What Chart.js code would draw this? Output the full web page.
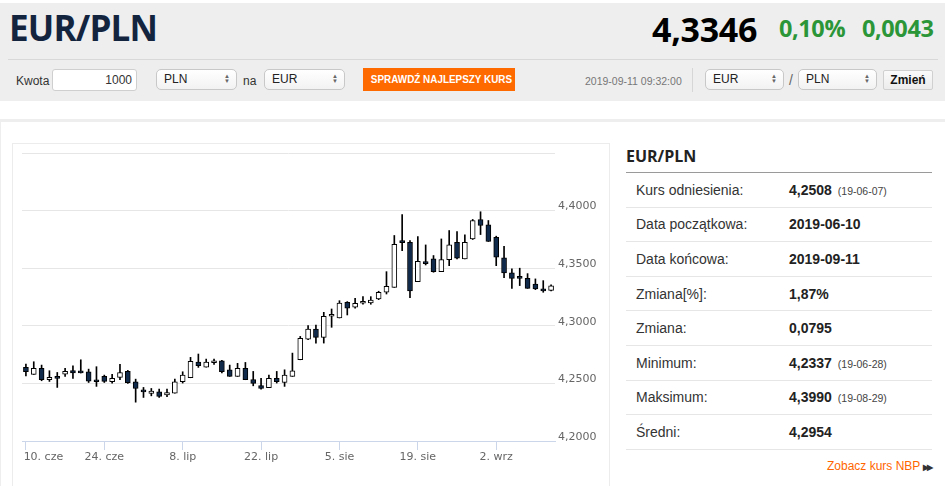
<!DOCTYPE html>
<html lang="pl">
<head>
<meta charset="utf-8">
<title>EUR/PLN</title>
<script src="https://cdn.jsdelivr.net/npm/chart.js@4.4.1/dist/chart.umd.min.js"></script>
<style>
  html, body { margin: 0; padding: 0; background: #fff; }
  body { width: 945px; height: 486px; position: relative; overflow: hidden; font-family: 'Liberation Sans', Arial, sans-serif; color: #333; }
  .abs { position: absolute; }
  #band { left: 0; top: 3px; width: 945px; height: 98px; background: #eeeeee; }
  #pair { left: 9px; top: 10px; font: 700 35px/1 'Open Sans', sans-serif; color: #13243f; letter-spacing: -0.8px; }
  #rate { left: 652px; top: 12px; font: 700 34px/1 'Open Sans', sans-serif; color: #000; letter-spacing: -0.3px; }
  .chg { top: 17px; font: 700 23.5px/1 'Open Sans', sans-serif; color: #2b9638; letter-spacing: -0.4px; }
  #hline { left: 8px; top: 59px; width: 930px; height: 1px; background: #d8d8d8; }
  .lbl { font-size: 12px; color: #333; top: 74px; }
  .box { top: 69px; height: 21px; background: linear-gradient(#ffffff, #f2f2f2); border: 1px solid #c8c8c8; border-radius: 5px; box-sizing: border-box; font-size: 12px; line-height: 19px; color: #222; }
  .box .t { position: absolute; left: 7px; top: 0; }
  .box .ar { position: absolute; right: 6px; top: 4px; font-size: 6px; line-height: 5px; color: #666; }
  #amount { left: 52px; top: 69px; width: 85px; height: 22px; background: #fff; border: 1px solid #cfcfcf; border-radius: 3px; box-sizing: border-box; font-size: 12px; line-height: 20px; text-align: right; padding-right: 4px; }
  #check { left: 363px; top: 68px; width: 152px; height: 23px; background: #ff6a00; color: #fff; font: 700 11px/23px 'Liberation Sans', Arial, sans-serif; text-align: center; }
  #check span { display: inline-block; transform: scaleX(0.9); white-space: nowrap; }
  #stamp { left: 585px; top: 75px; font-size: 10.5px; color: #777; }
  #vsep { left: 692px; top: 68px; width: 1px; height: 24px; background: #d6d6d6; }
  #swap { left: 883px; top: 70px; width: 50px; height: 20px; background: linear-gradient(#fafafa, #ececec); border: 1px solid #d0d0d0; border-radius: 2px; box-sizing: border-box; font: 700 12px/18px 'Liberation Sans', Arial, sans-serif; text-align: center; color: #111; }
  #gline { left: 0; top: 119px; width: 945px; height: 3px; background: #eeeeee; }
  #lline { left: 0; top: 122px; width: 1px; height: 364px; background: #eeeeee; }
  #chartbox { left: 12px; top: 143px; width: 598px; height: 360px; border: 1px solid #ececec; box-sizing: border-box; }
  #chart { left: 12px; top: 143px; }
  #side { left: 626px; top: 140px; width: 306px; }
  #side h2 { margin: 0; font: 700 16px/1 'Open Sans', sans-serif; color: #222; padding: 8px 0 9px 0; border-bottom: 1.5px solid #9a9a9a; height: 15px; }
  #side table { border-collapse: collapse; width: 306px; }
  #side td { height: 33.6px; border-bottom: 1px solid #e6e6e6; font-size: 14px; color: #333; padding: 0; }
  #side td.k { padding-left: 10px; width: 153px; }
  #side td.v { font-weight: 700; color: #222; }
  #side td.v small { font-weight: 400; font-size: 10.5px; color: #444; margin-left: 6px; }
  #nbp { left: 827px; top: 459px; font-size: 12px; color: #ff6600; }
  #nbp b { color: #333; font-size: 8px; margin-left: 3px; letter-spacing: -2px; }
</style>
</head>
<body>
<div id="band" class="abs"></div>
<div id="pair" class="abs">EUR/PLN</div>
<div id="rate" class="abs">4,3346</div>
<div class="abs chg" style="left:779px">0,10%</div>
<div class="abs chg" style="left:862px">0,0043</div>
<div id="hline" class="abs"></div>

<div class="abs lbl" style="left:16px">Kwota</div>
<div id="amount" class="abs">1000</div>
<div class="abs box" style="left:156px;width:81px"><span class="t">PLN</span><span class="ar">&#9650;<br>&#9660;</span></div>
<div class="abs lbl" style="left:243px">na</div>
<div class="abs box" style="left:264px;width:81px"><span class="t">EUR</span><span class="ar">&#9650;<br>&#9660;</span></div>
<div id="check" class="abs"><span>SPRAWDŹ NAJLEPSZY KURS</span></div>
<div id="stamp" class="abs">2019-09-11 09:32:00</div>
<div id="vsep" class="abs"></div>
<div class="abs box" style="left:705px;width:79px"><span class="t">EUR</span><span class="ar">&#9650;<br>&#9660;</span></div>
<div class="abs lbl" style="left:789px;font-size:14px;top:72px;color:#666">/</div>
<div class="abs box" style="left:798px;width:79px"><span class="t">PLN</span><span class="ar">&#9650;<br>&#9660;</span></div>
<div id="swap" class="abs">Zmień</div>

<div id="gline" class="abs"></div>
<div id="lline" class="abs"></div>
<div id="chartbox" class="abs"></div>
<canvas id="chart" class="abs" width="598" height="335"></canvas>

<div id="side" class="abs">
  <h2>EUR/PLN</h2>
  <table>
    <tr><td class="k">Kurs odniesienia:</td><td class="v">4,2508<small>(19-06-07)</small></td></tr>
    <tr><td class="k">Data początkowa:</td><td class="v">2019-06-10</td></tr>
    <tr><td class="k">Data końcowa:</td><td class="v">2019-09-11</td></tr>
    <tr><td class="k">Zmiana[%]:</td><td class="v">1,87%</td></tr>
    <tr><td class="k">Zmiana:</td><td class="v">0,0795</td></tr>
    <tr><td class="k">Minimum:</td><td class="v">4,2337<small>(19-06-28)</small></td></tr>
    <tr><td class="k">Maksimum:</td><td class="v">4,3990<small>(19-08-29)</small></td></tr>
    <tr><td class="k">Średni:</td><td class="v">4,2954</td></tr>
  </table>
</div>
<div id="nbp" class="abs">Zobacz kurs NBP<b>&#9654;&#9654;</b></div>

<script>
const dates = [
  '2019-06-10', '2019-06-11', '2019-06-12', '2019-06-13', '2019-06-14',
  '2019-06-17', '2019-06-18', '2019-06-19', '2019-06-20', '2019-06-21',
  '2019-06-24', '2019-06-25', '2019-06-26', '2019-06-27', '2019-06-28',
  '2019-07-01', '2019-07-02', '2019-07-03', '2019-07-04', '2019-07-05',
  '2019-07-08', '2019-07-09', '2019-07-10', '2019-07-11', '2019-07-12',
  '2019-07-15', '2019-07-16', '2019-07-17', '2019-07-18', '2019-07-19',
  '2019-07-22', '2019-07-23', '2019-07-24', '2019-07-25', '2019-07-26',
  '2019-07-29', '2019-07-30', '2019-07-31', '2019-08-01', '2019-08-02',
  '2019-08-05', '2019-08-06', '2019-08-07', '2019-08-08', '2019-08-09',
  '2019-08-12', '2019-08-13', '2019-08-14', '2019-08-15', '2019-08-16',
  '2019-08-19', '2019-08-20', '2019-08-21', '2019-08-22', '2019-08-23',
  '2019-08-26', '2019-08-27', '2019-08-28', '2019-08-29', '2019-08-30',
  '2019-09-02', '2019-09-03', '2019-09-04', '2019-09-05', '2019-09-06',
  '2019-09-09', '2019-09-10', '2019-09-11'
];

const openRates = [
  4.2639, 4.2578, 4.2630, 4.2532, 4.2552, 4.2581, 4.2612, 4.2595, 4.2601, 4.2520,
  4.2561, 4.2514, 4.2552, 4.2604, 4.2514, 4.2430, 4.2413, 4.2427, 4.2401, 4.2416,
  4.2514, 4.2549, 4.2685, 4.2641, 4.2679, 4.2697, 4.2618, 4.2561, 4.2630, 4.2534,
  4.2482, 4.2462, 4.2543, 4.2508, 4.2561, 4.2705, 4.2885, 4.2972, 4.2900, 4.3083,
  4.3068, 4.3204, 4.3161, 4.3196, 4.3198, 4.3233, 4.3291, 4.3334, 4.3725, 4.3725,
  4.3383, 4.3551, 4.3581, 4.3470, 4.3575, 4.3725, 4.3580, 4.3755, 4.3923, 4.3876,
  4.3769, 4.3589, 4.3459, 4.3415, 4.3412, 4.3363, 4.3320, 4.3308
];
const highRates = [
  4.2668, 4.2688, 4.2659, 4.2610, 4.2595, 4.2630, 4.2653, 4.2705, 4.2624, 4.2645,
  4.2572, 4.2578, 4.2665, 4.2613, 4.2537, 4.2465, 4.2456, 4.2450, 4.2450, 4.2537,
  4.2601, 4.2726, 4.2755, 4.2711, 4.2711, 4.2700, 4.2659, 4.2674, 4.2682, 4.2604,
  4.2543, 4.2572, 4.2604, 4.2618, 4.2763, 4.2908, 4.3001, 4.3007, 4.3117, 4.3146,
  4.3218, 4.3210, 4.3239, 4.3253, 4.3253, 4.3300, 4.3470, 4.3784, 4.3966, 4.3740,
  4.3774, 4.3702, 4.3610, 4.3754, 4.3827, 4.3818, 4.3789, 4.3923, 4.3990, 4.3914,
  4.3778, 4.3690, 4.3494, 4.3500, 4.3453, 4.3407, 4.3392, 4.3355
];
const lowRates = [
  4.2566, 4.2578, 4.2523, 4.2517, 4.2465, 4.2561, 4.2543, 4.2590, 4.2508, 4.2474,
  4.2508, 4.2503, 4.2532, 4.2500, 4.2337, 4.2378, 4.2392, 4.2378, 4.2384, 4.2416,
  4.2503, 4.2549, 4.2639, 4.2641, 4.2665, 4.2590, 4.2561, 4.2561, 4.2532, 4.2479,
  4.2450, 4.2462, 4.2503, 4.2474, 4.2561, 4.2705, 4.2879, 4.2850, 4.2850, 4.2987,
  4.3068, 4.3094, 4.3152, 4.3187, 4.3187, 4.3227, 4.3276, 4.3334, 4.3653, 4.3244,
  4.3383, 4.3528, 4.3465, 4.3470, 4.3522, 4.3580, 4.3580, 4.3749, 4.3792, 4.3732,
  4.3522, 4.3418, 4.3325, 4.3349, 4.3325, 4.3314, 4.3291, 4.3302
];
const closeRates = [
  4.2601, 4.2630, 4.2532, 4.2552, 4.2543, 4.2604, 4.2590, 4.2592, 4.2520, 4.2514,
  4.2517, 4.2543, 4.2595, 4.2506, 4.2456, 4.2427, 4.2433, 4.2387, 4.2421, 4.2514,
  4.2572, 4.2691, 4.2653, 4.2685, 4.2697, 4.2601, 4.2561, 4.2630, 4.2532, 4.2500,
  4.2456, 4.2543, 4.2514, 4.2572, 4.2610, 4.2891, 4.2972, 4.2900, 4.3083, 4.3088,
  4.3198, 4.3152, 4.3196, 4.3213, 4.3224, 4.3291, 4.3343, 4.3708, 4.3722, 4.3302,
  4.3560, 4.3540, 4.3470, 4.3575, 4.3702, 4.3586, 4.3725, 4.3914, 4.3871, 4.3732,
  4.3596, 4.3459, 4.3412, 4.3412, 4.3325, 4.3320, 4.3302, 4.3346
];

const tickDates = ['2019-06-10', '2019-06-24', '2019-07-08', '2019-07-22', '2019-08-05', '2019-08-19', '2019-09-02'];
const tickLabels = ['10. cze', '24. cze', '8. lip', '22. lip', '5. sie', '19. sie', '2. wrz'];

const yMin = 4.2;
const yMax = 4.45;
const yStep = 0.05;

Chart.defaults.font.family = "'DejaVu Sans', Verdana, sans-serif";
Chart.defaults.font.size = 11;

const bodies = openRates.map((o, i) => [o, closeRates[i]]);
const wicks = lowRates.map((l, i) => [l, highRates[i]]);
const rising = i => closeRates[i] >= openRates[i];

const ctx = document.getElementById('chart').getContext('2d');
new Chart(ctx, {
  type: 'bar',
  data: {
    labels: dates,
    datasets: [
      {
        label: 'EUR/PLN',
        data: bodies,
        grouped: false,
        barThickness: 5,
        minBarLength: 2,
        borderWidth: 1,
        borderSkipped: false,
        borderColor: '#000000',
        backgroundColor: c => rising(c.dataIndex) ? '#ffffff' : '#102a4c'
      },
      {
        label: 'wick',
        data: wicks,
        grouped: false,
        barThickness: 1,
        borderWidth: 0,
        backgroundColor: '#000000'
      }
    ]
  },
  options: {
    responsive: false,
    animation: false,
    layout: { padding: { left: 10, top: 10, right: 0, bottom: 0 } },
    plugins: {
      legend: { display: false },
      tooltip: { enabled: false }
    },
    scales: {
      x: {
        offset: true,
        grid: { offset: false, drawOnChartArea: false, tickLength: 9, color: '#ccd6eb' },
        border: { display: true, color: '#ccd6eb' },
        ticks: {
          autoSkip: false,
          maxRotation: 0,
          minRotation: 0,
          padding: 1,
          color: '#666666',
          callback: function(value) {
            const k = tickDates.indexOf(this.getLabelForValue(value));
            if (k < 0) return null;
            // first label sits right of its tick, like the original
            return (k === 0 ? '\u2007\u2007\u2007\u2007\u2007' : '') + tickLabels[k];
          }
        },
        afterFit: s => { s.height = 37; s.paddingLeft = 0; s.paddingRight = 0; }
      },
      y: {
        position: 'right',
        min: yMin,
        max: yMax,
        grid: { color: '#e6e6e6', drawTicks: false },
        border: { display: false },
        ticks: {
          stepSize: yStep,
          padding: 3,
          labelOffset: -4,
          color: '#666666',
          callback: v => v > yMax - 0.001 ? '' : v.toFixed(4).replace('.', ',')
        },
        afterFit: s => { s.width = 55; s.paddingTop = 0; s.paddingBottom = 0; }
      }
    }
  }
});
</script>
</body>
</html>
